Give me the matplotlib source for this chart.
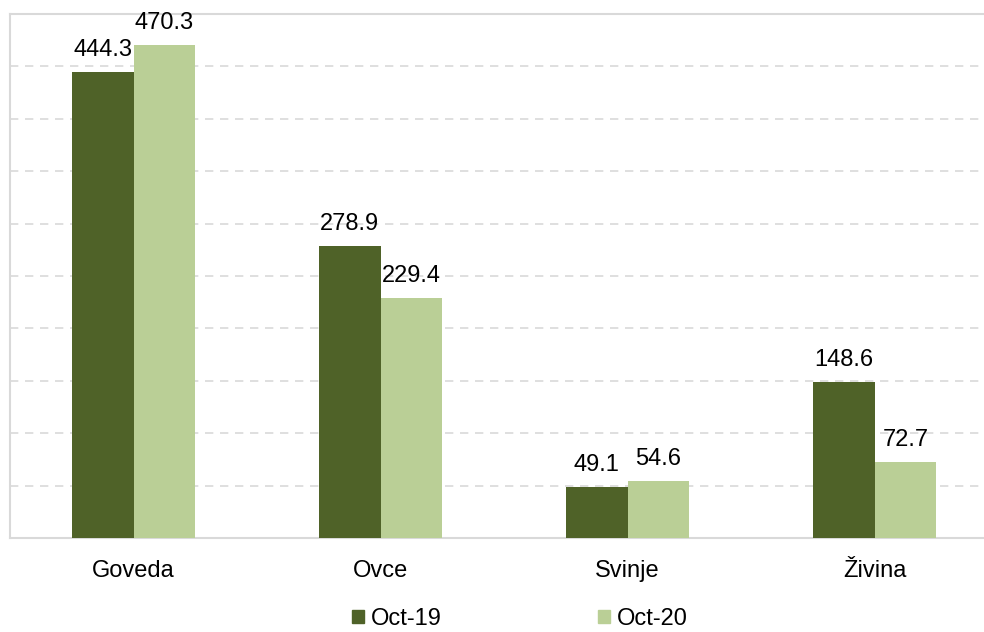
import matplotlib
matplotlib.use("Agg")
import matplotlib.pyplot as plt
from matplotlib.patches import Patch
import numpy as np

categories = ["Goveda", "Ovce", "Svinje", "Živina"]
series_names = ["Oct-19", "Oct-20"]
oct19 = [444.3, 278.9, 49.1, 148.6]
oct20 = [470.3, 229.4, 54.6, 72.7]

plt.rcParams['font.family'] = ['Liberation Sans', 'DejaVu Sans']

c1 = "#4F6228"
c2 = "#BACF96"
grid_c = "#D9D9D9"
fs = 17

fig = plt.figure(figsize=(9.84, 6.32), dpi=100)
ax = fig.add_axes([10/984, 94/632, 974/984, 524/632])

x = np.arange(len(categories))
w = 0.25
b1 = ax.bar(x - w/2, oct19, w, color=c1, zorder=3)
b2 = ax.bar(x + w/2, oct20, w, color=c2, zorder=3)

for bars, vals in ((b1, oct19), (b2, oct20)):
    for r, v in zip(bars, vals):
        ax.annotate(f"{v:.1f}", (r.get_x() + r.get_width()/2, v),
                    xytext=(0, 11.5), textcoords="offset points",
                    ha="center", va="baseline", fontsize=fs, color="#000000", zorder=4)

ax.set_ylim(0, 500)
ax.set_xlim(-0.5, -0.5 + 974/247)
ax.set_yticks(np.arange(50, 500, 50))
ax.yaxis.grid(True, color=grid_c, linestyle=(0, (5, 4)), linewidth=1.2, zorder=0)
ax.set_yticklabels([])
ax.tick_params(axis='y', length=0)
ax.set_xticks(x)
ax.set_xticklabels(categories, fontsize=fs)
ax.tick_params(axis='x', length=0, pad=15.5)

for s in ['left', 'top', 'bottom']:
    ax.spines[s].set_color(grid_c)
    ax.spines[s].set_linewidth(1.5)
ax.spines['right'].set_visible(False)

handles = [Patch(color=c1, label=series_names[0]), Patch(color=c2, label=series_names[1])]
fig.legend(handles=handles, loc="center", bbox_to_anchor=(520/984, 1 - 619/632),
           ncol=2, frameon=False, fontsize=fs, handlelength=0.5, handleheight=0.5,
           handletextpad=0.3, columnspacing=6.6, borderpad=0, borderaxespad=0)

fig.savefig("out.png", dpi=100)
